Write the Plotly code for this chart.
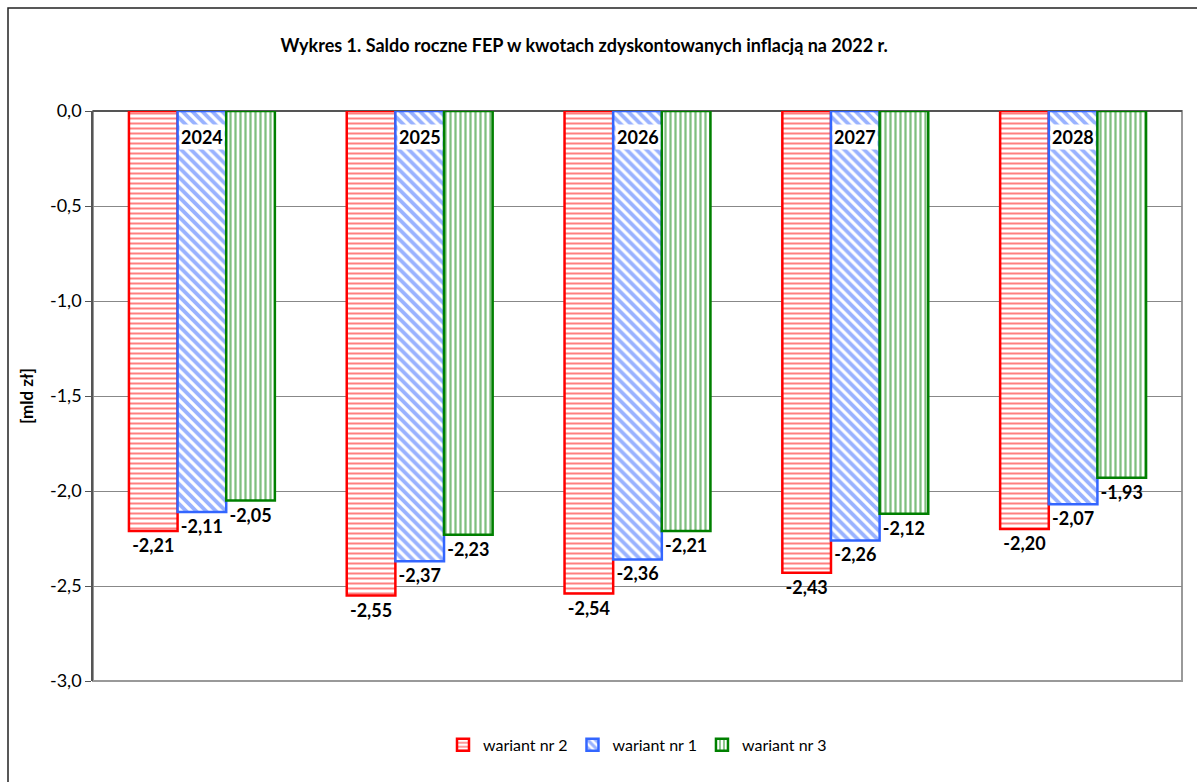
import plotly.graph_objects as go

years = ["2024", "2025", "2026", "2027", "2028"]
wariant2 = [-2.21, -2.55, -2.54, -2.43, -2.20]
wariant1 = [-2.11, -2.37, -2.36, -2.26, -2.07]
wariant3 = [-2.05, -2.23, -2.21, -2.12, -1.93]
y_ticks = [0.0, -0.5, -1.0, -1.5, -2.0, -2.5, -3.0]

series = [
    ("wariant nr 2", wariant2, "#FF0000", "-", 5, 0.4),
    ("wariant nr 1", wariant1, "#3366FF", "\\", 7, 0.55),
    ("wariant nr 3", wariant3, "#008000", "|", 5, 0.45),
]

FONT = "Lato, Carlito, 'Open Sans', sans-serif"

def fmt(v):
    return f"{v:.2f}".replace(".", ",")

fig = go.Figure()
for name, vals, col, shp, sz, sol in series:
    fig.add_trace(go.Bar(
        x=years, y=vals, name=name,
        marker=dict(color="white", line=dict(color=col, width=2.5),
                    pattern=dict(shape=shp, fgcolor=col, bgcolor="white",
                                 size=sz, solidity=sol, fillmode="overlay")),
        text=[fmt(v) for v in vals],
        textposition="outside",
        textfont=dict(size=18, color="black", family=FONT, weight="bold"),
        cliponaxis=False,
    ))

for i, y in enumerate(years):
    fig.add_annotation(x=i, y=0, text="<b>" + y + "</b>", showarrow=False,
                       yanchor="top", yshift=-13, bgcolor="white",
                       font=dict(size=18, color="black", family=FONT))

# outer frame and plot-area frame
fig.add_shape(type="rect", xref="paper", yref="paper",
              x0=-85/1089, x1=1.03, y0=-0.2, y1=1 + 103/570,
              line=dict(color="#222222", width=1.5), layer="below")
fig.add_shape(type="rect", xref="paper", yref="paper", x0=0, x1=1, y0=0, y1=1,
              line=dict(color="#999999", width=2), layer="below")

fig.update_layout(
    width=1197, height=782,
    margin=dict(l=93, r=15, t=111, b=101, autoexpand=False),
    plot_bgcolor="white", paper_bgcolor="white",
    separators=", ",
    font=dict(family=FONT, size=15, color="black"),
    title=dict(text="<b>Wykres 1. Saldo roczne FEP w kwotach zdyskontowanych inflacją na 2022 r.</b>",
               x=0.488, xanchor="center", y=0.942, yanchor="middle",
               font=dict(size=18, family=FONT, color="black")),
    barmode="group", bargap=0.33, bargroupgap=0.0,
    showlegend=True,
    legend=dict(orientation="h", x=0.5, xanchor="center", y=-0.112, yanchor="middle",
                font=dict(size=16, family=FONT), itemwidth=30, traceorder="normal"),
    xaxis=dict(type="category", range=[-0.5, 4.5], autorange=False, showticklabels=False,
               showline=False, showgrid=False, ticks="", automargin=False),
    yaxis=dict(range=[-3, 0], autorange=False, tickvals=y_ticks,
               ticktext=[f"{v:.1f}".replace(".", ",") for v in y_ticks],
               showgrid=True, automargin=False,
               gridcolor="#888888", gridwidth=1, zeroline=True, zerolinecolor="#555555",
               zerolinewidth=2, showline=True, linecolor="#555555", linewidth=1.5,
               ticks="outside", ticklen=6, tickcolor="#555555",
               tickfont=dict(size=18, family=FONT),
               title=dict(text="<b>[mld zł]</b>", standoff=12, font=dict(size=17, family=FONT))),
)

fig.write_html("out.html", config={"displayModeBar": False},
               post_script="document.body.style.margin='0';")
